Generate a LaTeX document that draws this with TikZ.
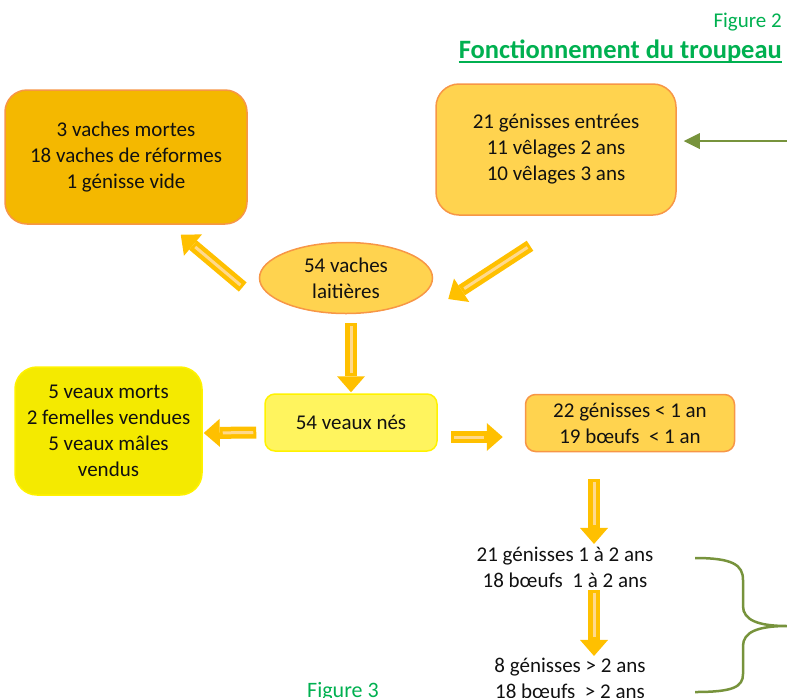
\documentclass[tikz,border=0pt]{standalone}
\usepackage{fontspec}
\setmainfont{Carlito}
\usepackage{tikz}
\usetikzlibrary{arrows.meta,calc,shapes.geometric}
\definecolor{tpInk}{HTML}{111111}
\definecolor{tpAmber}{HTML}{F4B800}
\definecolor{tpGold}{HTML}{FFD34F}
\definecolor{tpLemon}{HTML}{F4EA00}
\definecolor{tpPale}{HTML}{FFF45E}
\definecolor{tpRim}{HTML}{F79646}
\definecolor{tpRimY}{HTML}{FFF200}
\definecolor{tpArrow}{HTML}{FFC000}
\definecolor{tpStripe}{HTML}{FFD98C}
\definecolor{tpGreen}{HTML}{00B050}
\definecolor{tpOlive}{HTML}{77933C}
\tikzset{
  box/.style      ={line width=1.5pt,align=center,inner sep=0pt,text=tpInk,
                    font=\fontsize{21}{26}\selectfont},
  herdbox/.style  ={box,draw=tpRim,fill=tpGold,rounded corners=23pt},
  lossbox/.style  ={box,draw=tpRim,fill=tpAmber,rounded corners=22pt},
  calfbox/.style  ={box,draw=tpRimY,fill=tpLemon,rounded corners=22pt},
  bornbox/.style  ={box,draw=tpRimY,fill=tpPale,rounded corners=10pt},
  youngbox/.style ={box,draw=tpRim,fill=tpGold,rounded corners=10pt},
  herd/.style     ={box,draw=tpRim,fill=tpGold,ellipse},
  plain/.style    ={box},
  fig/.style      ={text=tpGreen,inner sep=0pt,font=\fontsize{21}{25}\selectfont},
  fat/.style      ={tpArrow,line width=12pt,
                    -{Triangle[width=28pt 0 0,length=16pt 0 0,line width=0pt]}},
  stripe/.style   ={tpStripe,line width=3pt},
  olive/.style    ={tpOlive,line width=2.5pt},
}
% block arrow between two named coordinates
\newcommand{\fatarrow}[2]{%
  \draw[fat] (#1) -- (#2);
  \draw[stripe] ($(#1)!3pt!(#2)$) -- ($(#2)!19pt!(#1)$);}

\begin{document}
\begin{tikzpicture}[x=1pt,y=-1pt]
\useasboundingbox (0,0) rectangle (787,697);

% titles
\node[fig,anchor=base east] (fig2) at (782,27) {Figure 2};
\node[fig,anchor=base east,font=\fontsize{26.5}{30}\selectfont\bfseries] (titre) at (782,58)
  {Fonctionnement du troupeau};
\draw[tpGreen,line width=1.8pt] ($(titre.base west)+(0,4)$) -- ($(titre.base east)+(0,4)$);

% herd
\node[lossbox,minimum width=242pt,minimum height=134pt] (mortes) at (126,157)
  {3 vaches mortes\\18 vaches de réformes\\1 génisse vide};
\node[herdbox,minimum width=240pt,minimum height=131pt] (entrees) at (556,149.5)
  {21 génisses entrées\\11 vêlages 2 ans\\10 vêlages 3 ans};
\node[herd,minimum width=173pt,minimum height=71pt] (vaches) at (346,278)
  {54 vaches\\laitières};

% calves
\node[calfbox,minimum width=187pt,minimum height=128pt] (veaux) at (108.5,431)
  {5 veaux morts\\2 femelles vendues\\5 veaux mâles\\vendus};
\node[bornbox,minimum width=172pt,minimum height=57pt] (nes) at (351,422.5)
  {54 veaux nés};
\node[youngbox,minimum width=209pt,minimum height=57pt] (moins1) at (630,423)
  {22 génisses < 1 an\\19 bœufs\ \ < 1 an};
\node[plain] (unadeux) at (565,567) {21 génisses 1 à 2 ans\\18 bœufs\ \ 1 à 2 ans};
\node[plain] (plus2) at (570,678) {8 génisses > 2 ans\\18 bœufs\ \ > 2 ans};
\node[fig,anchor=base west,font=\fontsize{22}{26}\selectfont] (fig3) at (307,697) {Figure 3};

% arrow ends
\coordinate (a1s) at ($(vaches.west)+(-16,9)$);
\coordinate (a1e) at ($(mortes.south east)+(-67,10)$);
\coordinate (a2s) at ($(entrees.south)+(-26,30)$);
\coordinate (a2e) at ($(vaches.east)+(15,21)$);
\coordinate (a3s) at ($(vaches.south)+(5,9)$);
\coordinate (a3e) at ($(nes.north)+(0,-1)$);
\coordinate (a4s) at ($(nes.west)+(-8,10)$);
\coordinate (a4e) at ($(veaux.east)+(1,2)$);
\coordinate (a5s) at ($(nes.east)+(13,14.5)$);
\coordinate (a5e) at ($(moins1.west)+(-22,14)$);
\coordinate (a6s) at ($(moins1.south)+(-36,27)$);
\coordinate (a6e) at ($(unadeux.north)+(29,-2)$);
\coordinate (a7s) at ($(unadeux.south)+(29,2)$);
\coordinate (a7e) at ($(plus2.north)+(24,-1)$);

\fatarrow{a1s}{a1e}
\fatarrow{a2s}{a2e}
\fatarrow{a3s}{a3e}
\fatarrow{a4s}{a4e}
\fatarrow{a5s}{a5e}
\fatarrow{a6s}{a6e}
\fatarrow{a7s}{a7e}

% heifers coming in
\coordinate (feed) at (787,141);
\coordinate (feedtip) at ($(entrees.east)+(7,-8.5)$);
\draw[olive,-{Triangle[width=16pt 0 0,length=16pt 0 0,line width=0pt]}] (feed) -- (feedtip);

% brace
\coordinate (bTop) at (695,558);
\coordinate (bTip) at (787,626);
\coordinate (bBot) at (695,692);
\draw[olive] (bTop) .. controls (733,558) and (743,565) .. (743,580) -- (743,606)
  .. controls (743,620) and (758,626) .. (bTip)
  .. controls (758,626) and (743,632) .. (743,646) -- (743,674)
  .. controls (743,687) and (733,692) .. (bBot);
\end{tikzpicture}
\end{document}
